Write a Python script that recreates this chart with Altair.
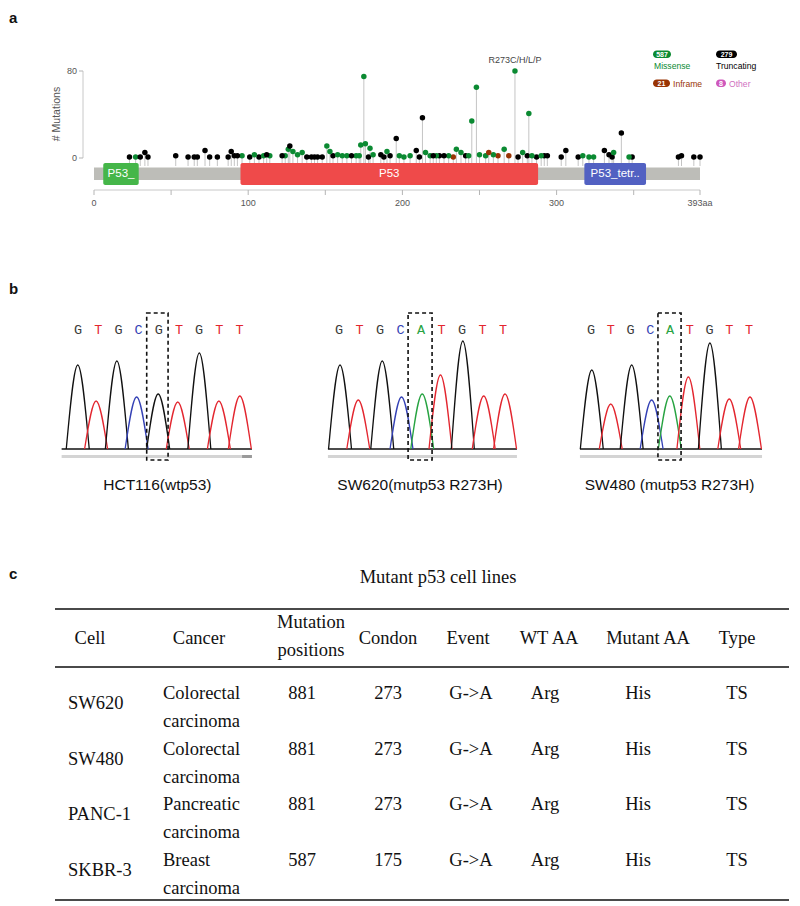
import altair as alt
import pandas as pd

# ---------------------------------------------------------------- layout helpers
OX, OY = 13, 13            # page position of the view origin (8px page margin + 5px padding)
W, H = 779, 893


def px(v):
    return v - OX


def py(v):
    return v - OY


SANS = "Liberation Sans"
SERIF = "Liberation Serif"
MONO = "Liberation Mono"

# ================================================================ DATA
# ---- (a) lollipop plot of TP53 mutations
mut_pos = [23, 27, 30, 33, 35, 53, 61, 65, 67, 72, 75, 80, 87, 89, 91, 93, 96, 101, 104, 107,
           110, 112, 114, 122, 124, 126, 127, 129, 132, 135, 138, 141, 143, 145, 148, 151, 153, 155, 158, 161,
           164, 167, 170, 172, 173, 175, 176, 178, 179, 181, 186, 188, 190, 192, 196, 198, 201, 205, 209, 211,
           213, 215, 218, 220, 222, 224, 227, 230, 233, 235, 238, 241, 243, 245, 248, 250, 254, 256, 259, 262,
           266, 269, 273, 275, 278, 281, 282, 284, 287, 290, 292, 294, 303, 306, 314, 317, 321, 324, 331, 334,
           336, 337, 342, 347, 349, 379, 381, 389, 393]
mut_count = [1, 1, 1, 5, 1, 2, 1, 1, 1, 7, 1, 1, 1, 6, 2, 2, 2, 1, 3, 1,
             2, 3, 2, 2, 2, 8, 11, 6, 3, 5, 1, 1, 1, 1, 1, 11, 6, 2, 3, 2,
             2, 2, 2, 2, 12, 75, 13, 1, 9, 3, 3, 1, 6, 2, 18, 2, 1, 2, 7, 1,
             37, 5, 2, 2, 2, 2, 2, 2, 1, 8, 5, 2, 2, 34, 65, 3, 2, 5, 3, 2,
             8, 2, 80, 1, 5, 2, 41, 2, 1, 2, 2, 2, 1, 7, 1, 2, 1, 1, 7, 3,
             1, 5, 23, 1, 1, 1, 2, 1, 1]
mut_type = ["T", "M", "T", "T", "T", "T", "T", "T", "T", "T", "T", "T", "T", "T", "T", "T", "M", "T", "M", "T",
            "M", "T", "M", "T", "M", "M", "T", "M", "M", "M", "T", "T", "T", "T", "T", "M", "M", "T", "M", "M",
            "M", "T", "M", "M", "M", "M", "M", "T", "M", "M", "T", "T", "M", "T", "T", "M", "M", "M", "T", "T",
            "T", "M", "M", "T", "M", "T", "T", "M", "I", "M", "M", "T", "M", "M", "M", "M", "M", "I", "M", "I",
            "M", "I", "M", "T", "M", "T", "M", "M", "T", "M", "T", "T", "T", "T", "T", "M", "M", "M", "T", "T",
            "T", "M", "T", "M", "T", "T", "T", "T", "T"]

type_codes = ["M", "T", "I", "O"]
type_names = ["Missense", "Truncating", "Inframe", "Other"]
type_counts = ["587", "279", "21", "8"]
type_colors = ["#0b8a32", "#000000", "#993404", "#cf58bc"]

protein_len = 393
dom_names = ["P53_", "P53", "P53_tetr.."]
dom_start = [6, 95, 318]
dom_end = [29, 288, 358]
dom_colors = ["#45b649", "#ef4a4a", "#5261c2"]

hot_label = ["R273C/H/L/P"]
hot_pos = [273]
hot_count = [80]

x_ticks = [0, 50, 100, 150, 200, 250, 300, 350, 393]
x_tick_labels = ["0", "", "100", "", "200", "", "300", "", "393aa"]
y_ticks = [0, 80]
y_tick_labels = ["0", "80"]
y_title = "# Mutations"

# ---- (b) Sanger chromatograms
chrom_names = ["HCT116(wtp53)", "SW620(mutp53 R273H)", "SW480 (mutp53 R273H)"]
chrom_seq = ["GTGCGTGTT", "GTGCATGTT", "GTGCATGTT"]
chrom_peak_pos = [
    [0.98, 1.89, 2.92, 3.90, 4.97, 5.94, 7.01, 7.98, 9.02],
    [1.05, 1.94, 3.11, 4.05, 5.06, 5.95, 7.04, 8.06, 9.10],
    [1.04, 2.00, 3.06, 4.07, 4.99, 5.93, 7.02, 8.00, 9.05],
]
chrom_peak_h = [
    [84, 48, 88, 52, 55, 47, 96, 48, 53],
    [84, 49, 88, 52, 55, 74, 108, 53, 55],
    [79, 45, 84, 49, 53, 72, 106, 50, 52],
]
peak_halfwidth = [0.57, 0.56, 0.58]
trace_start = [0.18, 0.46, 0.44]
trace_end = [9.62, 9.68, 9.66]
dark_seg_start = [9.13, None, None]
box_lo = [4.40, 4.37, 4.39]
box_hi = [5.46, 5.54, 5.56]
base_trace_colors = {"G": "#111111", "T": "#e3262f", "C": "#3441b5", "A": "#27a341"}
base_text_colors = {"G": "#3a3a3a", "T": "#e3262f", "C": "#3441b5", "A": "#27a341"}

# ---- (c) table
table_title = "Mutant p53 cell lines"
headers = ["Cell", "Cancer", "Mutation", "positions", "Condon", "Event", "WT AA", "Mutant AA", "Type"]
cells = ["SW620", "SW480", "PANC-1", "SKBR-3"]
cancer_l1 = ["Colorectal", "Colorectal", "Pancreatic", "Breast"]
cancer_l2 = ["carcinoma", "carcinoma", "carcinoma", "carcinoma"]
positions = ["881", "881", "881", "587"]
codons = ["273", "273", "273", "175"]
events = ["G->A", "G->A", "G->A", "G->A"]
wt_aa = ["Arg", "Arg", "Arg", "Arg"]
mut_aa = ["His", "His", "His", "His"]
types = ["TS", "TS", "TS", "TS"]

ONE = pd.DataFrame({"k": [0]})


def const_text(text, x, y, **kw):
    return alt.Chart(pd.DataFrame({"t": [text]})).mark_text(**kw).encode(
        x=alt.value(px(x)), y=alt.value(py(y)), text="t:N")


# ================================================================ PANEL A
xA = alt.Scale(domain=[0, protein_len], range=[px(94), px(700)], nice=False, zero=False)
yA = alt.Scale(domain=[0, 80], range=[py(158), py(71)], nice=False, zero=False)

lolli = pd.DataFrame({"pos": mut_pos, "count": mut_count, "code": mut_type})
lolli["color"] = lolli["code"].map(dict(zip(type_codes, type_colors)))
lolli = lolli.sort_values("count")

stems = alt.Chart(lolli).mark_rule(color="#c4c4c4", strokeWidth=1).encode(
    x=alt.X("pos:Q", scale=xA, axis=None),
    y=alt.Y("count:Q", scale=yA, axis=None),
    y2=alt.value(py(166)),
)

backbone = alt.Chart(pd.DataFrame({"s": [0], "e": [protein_len]})).mark_rect(color="#bdbdb8").encode(
    x=alt.X("s:Q", scale=xA, axis=None), x2="e:Q",
    y=alt.value(py(167.5)), y2=alt.value(py(180)),
)

dom_df = pd.DataFrame({"name": dom_names, "s": dom_start, "e": dom_end, "color": dom_colors})
domains = alt.Chart(dom_df).mark_rect(cornerRadius=2).encode(
    x=alt.X("s:Q", scale=xA, axis=None), x2="e:Q",
    y=alt.value(py(163)), y2=alt.value(py(185)),
    color=alt.Color("color:N", scale=None),
)
dom_text = alt.Chart(dom_df).transform_calculate(mid="(datum.s + datum.e) / 2").mark_text(
    color="white", font=SANS, fontSize=11.5).encode(
    x=alt.X("mid:Q", scale=xA, axis=None),
    y=alt.value(py(174)),
    text="name:N",
)

dots = alt.Chart(lolli).mark_circle(size=30, opacity=1).encode(
    x=alt.X("pos:Q", scale=xA, axis=None),
    y=alt.Y("count:Q", scale=yA, axis=None),
    color=alt.Color("color:N", scale=None),
)

# hand-built axes (drawn through the same scales)
AX_COL = "#c8c8c8"
xt = pd.DataFrame({"v": x_ticks, "lab": x_tick_labels})
x_line = alt.Chart(pd.DataFrame({"lo": [0], "hi": [protein_len]})).mark_rule(color=AX_COL).encode(
    x=alt.X("lo:Q", scale=xA, axis=None), x2="hi:Q", y=alt.value(py(190)))
x_tk = alt.Chart(xt).mark_rule(color="#b5b5b5").encode(
    x=alt.X("v:Q", scale=xA, axis=None), y=alt.value(py(190)), y2=alt.value(py(195)))
x_lab = alt.Chart(xt).mark_text(font=SANS, fontSize=9, color="#555555").encode(
    x=alt.X("v:Q", scale=xA, axis=None), y=alt.value(py(203)), text="lab:N")

yt = pd.DataFrame({"v": y_ticks, "lab": y_tick_labels})
y_line = alt.Chart(pd.DataFrame({"lo": [0], "hi": [80]})).mark_rule(color=AX_COL).encode(
    y=alt.Y("lo:Q", scale=yA, axis=None), y2="hi:Q", x=alt.value(px(83)))
y_tk = alt.Chart(yt).mark_rule(color="#b5b5b5").encode(
    y=alt.Y("v:Q", scale=yA, axis=None), x=alt.value(px(79)), x2=alt.value(px(83)))
y_lab = alt.Chart(yt).mark_text(font=SANS, fontSize=9, color="#555555", align="right").encode(
    y=alt.Y("v:Q", scale=yA, axis=None), x=alt.value(px(77)), text="lab:N")
y_tit = const_text(y_title, 57, 114, font=SANS, fontSize=10.5, color="#555555", angle=270)

hot = alt.Chart(pd.DataFrame({"pos": hot_pos, "count": hot_count, "label": hot_label})).mark_text(
    dy=-11, font=SANS, fontSize=9, color="#444444").encode(
    x=alt.X("pos:Q", scale=xA, axis=None),
    y=alt.Y("count:Q", scale=yA, axis=None),
    text="label:N",
)

# legend (pill with count + label)
pill_boxes = [(653, 671, 50.5, 58), (716, 737, 50.5, 58), (653, 670, 79.5, 87), (716, 726, 79.5, 87)]
label_pos = [(654, 65.5), (716, 65.5), (673, 83.5), (729, 83.5)]
legend_layers = []
for i in range(4):
    x0, x1, y0, y1 = pill_boxes[i]
    legend_layers.append(alt.Chart(ONE).mark_rect(cornerRadius=3.8, color=type_colors[i]).encode(
        x=alt.value(px(x0)), x2=alt.value(px(x1)), y=alt.value(py(y0)), y2=alt.value(py(y1))))
    legend_layers.append(const_text(type_counts[i], (x0 + x1) / 2, (y0 + y1) / 2 + 0.3, font=SANS,
                                    fontSize=7, fontWeight="bold", color="white"))
    lx, ly = label_pos[i]
    legend_layers.append(const_text(type_names[i], lx, ly, font=SANS, fontSize=8.6, align="left",
                                    color=type_colors[i] if i != 3 else "#d070c0"))

panelA = alt.layer(stems, backbone, domains, dom_text, x_line, x_tk, x_lab, y_line, y_tk, y_lab, y_tit,
                   dots, hot, *legend_layers)

# ================================================================ PANEL B
trace_px = [(58, 259.6), (318.5, 523.5), (571.25, 768.75)]
trace_layers = []
for t in range(3):
    xs = alt.Scale(domain=[0, 10], range=[px(trace_px[t][0]), px(trace_px[t][1])], nice=False, zero=False)
    ys = alt.Scale(domain=[0, 100], range=[py(449), py(349)], nice=False, zero=False)
    rows = []
    for j, (c, h) in enumerate(zip(chrom_peak_pos[t], chrom_peak_h[t])):
        col = base_trace_colors[chrom_seq[t][j]]
        hw = peak_halfwidth[t]
        rows += [{"pid": j, "x": c - hw, "y": 0, "color": col},
                 {"pid": j, "x": c, "y": h, "color": col},
                 {"pid": j, "x": c + hw, "y": 0, "color": col}]
    pk = pd.DataFrame(rows)
    peaks = alt.Chart(pk).mark_line(interpolate="monotone", strokeWidth=1.3).encode(
        x=alt.X("x:Q", scale=xs, axis=None),
        y=alt.Y("y:Q", scale=ys, axis=None),
        color=alt.Color("color:N", scale=None),
        detail="pid:N",
        order="x:Q",
    )
    ends = pd.DataFrame({"s": [trace_start[t]], "e": [trace_end[t]]})
    base = alt.Chart(ends).mark_rule(color="#111111", strokeWidth=1.3).encode(
        x=alt.X("s:Q", scale=xs, axis=None), x2="e:Q", y=alt.value(py(449)))
    grey = alt.Chart(ends).mark_rule(color="#d4d4d4", strokeWidth=3).encode(
        x=alt.X("s:Q", scale=xs, axis=None), x2="e:Q", y=alt.value(py(456.5)))
    layers = [grey]
    if dark_seg_start[t] is not None:
        dk = pd.DataFrame({"s": [dark_seg_start[t]], "e": [trace_end[t]]})
        layers.append(alt.Chart(dk).mark_rule(color="#9a9a9a", strokeWidth=3).encode(
            x=alt.X("s:Q", scale=xs, axis=None), x2="e:Q", y=alt.value(py(456.5))))
    letters = pd.DataFrame({"i": list(range(1, 10)), "b": list(chrom_seq[t]),
                            "color": [base_text_colors[b] for b in chrom_seq[t]]})
    let = alt.Chart(letters).mark_text(font=MONO, fontSize=13.5).encode(
        x=alt.X("i:Q", scale=xs, axis=None), y=alt.value(py(329.5)), text="b:N",
        color=alt.Color("color:N", scale=None))
    boxdf = pd.DataFrame({"lo": [box_lo[t]], "hi": [box_hi[t]], "name": [chrom_names[t]]})
    box = alt.Chart(boxdf).mark_rect(fill="transparent", stroke="#111111", strokeWidth=1.6,
                                     strokeDash=[4, 3]).encode(
        x=alt.X("lo:Q", scale=xs, axis=None), x2="hi:Q", y=alt.value(py(313)), y2=alt.value(py(460)))
    lab = alt.Chart(boxdf).transform_calculate(mid="(datum.lo + datum.hi) / 2").mark_text(
        font=SANS, fontSize=15.5, color="#111111").encode(
        x=alt.X("mid:Q", scale=xs, axis=None), y=alt.value(py(485)), text="name:N")
    trace_layers.append(alt.layer(*layers, base, peaks, let, box, lab))

# ================================================================ PANEL C
tbl = pd.DataFrame({"row": [0, 1, 2, 3], "cell": cells, "c1": cancer_l1, "c2": cancer_l2, "pos": positions,
                    "codon": codons, "event": events, "wt": wt_aa, "mut": mut_aa, "type": types})
yT = alt.Scale(domain=[0, 3], range=[py(693), py(860)], nice=False, zero=False)
col_specs = [("cell", 68, "left", 10), ("c1", 163, "left", 0), ("c2", 163, "left", 28),
             ("pos", 302, "center", 0), ("codon", 388, "center", 0), ("event", 471, "center", 0),
             ("wt", 545, "center", 0), ("mut", 638, "center", 0), ("type", 737, "center", 0)]
table_layers = []
for field, x, al, dy in col_specs:
    table_layers.append(alt.Chart(tbl).mark_text(font=SERIF, fontSize=18.5, color="#111111", align=al,
                                                 dy=dy).encode(
        x=alt.value(px(x)), y=alt.Y("row:Q", scale=yT, axis=None), text=f"{field}:N"))

header_pos = [(90, 638), (199, 638), (311, 622), (311, 650), (388, 638), (468, 638), (549, 638),
              (648, 638), (737, 638)]
for h_text, (hx, hy) in zip(headers, header_pos):
    table_layers.append(const_text(h_text, hx, hy, font=SERIF, fontSize=18.5, color="#111111"))
table_layers.append(const_text(table_title, 438, 577, font=SERIF, fontSize=18.5, color="#111111"))
for ry, sw in [(609, 1.8), (667, 1.8), (900, 1.8)]:
    table_layers.append(alt.Chart(ONE).mark_rule(color="#4a4a4a", strokeWidth=sw).encode(
        x=alt.value(px(55)), x2=alt.value(px(789)), y=alt.value(py(ry))))
panelC = alt.layer(*table_layers)

# ================================================================ panel letters
letters_ = [const_text(t, 9, y, font=SANS, fontSize=15, fontWeight="bold", align="left",
                       baseline="alphabetic", color="#111111")
            for t, y in [("a", 23), ("b", 294), ("c", 579)]]

chart = alt.layer(panelA, *trace_layers, panelC, *letters_).resolve_scale(
    x="independent", y="independent"
).properties(
    width=W, height=H,
    padding={"left": 5, "top": 5, "right": 0, "bottom": 0},
    autosize=alt.AutoSizeParams(type="none"),
).configure_view(stroke=None)

chart.save("out.html", embed_options={"renderer": "svg", "actions": False})
